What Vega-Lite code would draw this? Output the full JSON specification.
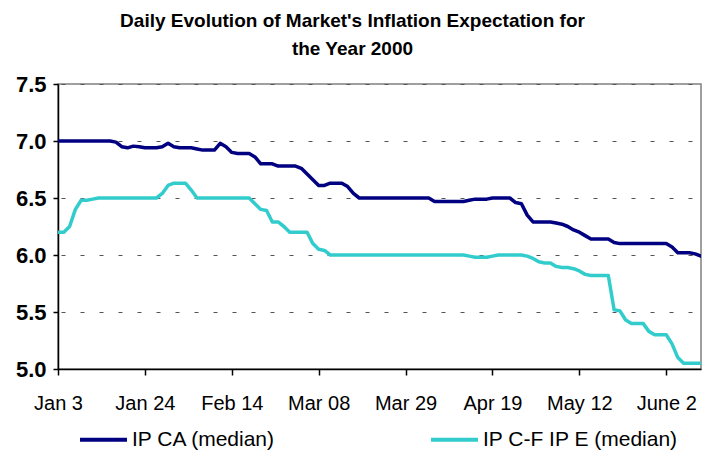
{
  "$schema": "https://vega.github.io/schema/vega-lite/v6.json",
  "autosize": {"type": "none"},
  "padding": {"left": 58, "top": 84, "right": 3, "bottom": 83},
  "width": 643,
  "height": 285,
  "title": {
    "text": ["Daily Evolution of Market's Inflation Expectation for", "the Year 2000"],
    "font": "Liberation Sans",
    "fontSize": 19,
    "fontWeight": "bold",
    "color": "#000000",
    "lineHeight": 28,
    "anchor": "middle",
    "frame": "group",
    "dx": -27,
    "offset": 14
  },
  "config": {
    "view": {"stroke": "#808080", "strokeWidth": 1.5},
    "font": "Liberation Sans"
  },
  "data": {
    "values": [
      {"s": "IP CA (median)", "d": 0, "v": 7.0},
      {"s": "IP CA (median)", "d": 9, "v": 7.0},
      {"s": "IP CA (median)", "d": 10, "v": 6.99},
      {"s": "IP CA (median)", "d": 11, "v": 6.95},
      {"s": "IP CA (median)", "d": 12, "v": 6.94},
      {"s": "IP CA (median)", "d": 13, "v": 6.955},
      {"s": "IP CA (median)", "d": 14, "v": 6.95},
      {"s": "IP CA (median)", "d": 15, "v": 6.94},
      {"s": "IP CA (median)", "d": 17, "v": 6.94},
      {"s": "IP CA (median)", "d": 18, "v": 6.95},
      {"s": "IP CA (median)", "d": 19, "v": 6.98},
      {"s": "IP CA (median)", "d": 20, "v": 6.95},
      {"s": "IP CA (median)", "d": 21, "v": 6.94},
      {"s": "IP CA (median)", "d": 23, "v": 6.94},
      {"s": "IP CA (median)", "d": 24, "v": 6.93},
      {"s": "IP CA (median)", "d": 25, "v": 6.92},
      {"s": "IP CA (median)", "d": 27, "v": 6.92},
      {"s": "IP CA (median)", "d": 28, "v": 6.98},
      {"s": "IP CA (median)", "d": 29, "v": 6.95},
      {"s": "IP CA (median)", "d": 30, "v": 6.9},
      {"s": "IP CA (median)", "d": 31, "v": 6.89},
      {"s": "IP CA (median)", "d": 33, "v": 6.89},
      {"s": "IP CA (median)", "d": 34, "v": 6.86},
      {"s": "IP CA (median)", "d": 35, "v": 6.8},
      {"s": "IP CA (median)", "d": 37, "v": 6.8},
      {"s": "IP CA (median)", "d": 38, "v": 6.78},
      {"s": "IP CA (median)", "d": 41, "v": 6.78},
      {"s": "IP CA (median)", "d": 42, "v": 6.76},
      {"s": "IP CA (median)", "d": 43, "v": 6.71},
      {"s": "IP CA (median)", "d": 44, "v": 6.66},
      {"s": "IP CA (median)", "d": 45, "v": 6.61},
      {"s": "IP CA (median)", "d": 46, "v": 6.61},
      {"s": "IP CA (median)", "d": 47, "v": 6.63},
      {"s": "IP CA (median)", "d": 49, "v": 6.63},
      {"s": "IP CA (median)", "d": 50, "v": 6.6},
      {"s": "IP CA (median)", "d": 51, "v": 6.54},
      {"s": "IP CA (median)", "d": 52, "v": 6.5},
      {"s": "IP CA (median)", "d": 64, "v": 6.5},
      {"s": "IP CA (median)", "d": 65, "v": 6.47},
      {"s": "IP CA (median)", "d": 70, "v": 6.47},
      {"s": "IP CA (median)", "d": 71, "v": 6.48},
      {"s": "IP CA (median)", "d": 72, "v": 6.49},
      {"s": "IP CA (median)", "d": 74, "v": 6.49},
      {"s": "IP CA (median)", "d": 75, "v": 6.5},
      {"s": "IP CA (median)", "d": 78, "v": 6.5},
      {"s": "IP CA (median)", "d": 79, "v": 6.46},
      {"s": "IP CA (median)", "d": 80, "v": 6.45},
      {"s": "IP CA (median)", "d": 81, "v": 6.35},
      {"s": "IP CA (median)", "d": 82, "v": 6.29},
      {"s": "IP CA (median)", "d": 85, "v": 6.29},
      {"s": "IP CA (median)", "d": 86, "v": 6.28},
      {"s": "IP CA (median)", "d": 87, "v": 6.27},
      {"s": "IP CA (median)", "d": 88, "v": 6.25},
      {"s": "IP CA (median)", "d": 89, "v": 6.22},
      {"s": "IP CA (median)", "d": 90, "v": 6.2},
      {"s": "IP CA (median)", "d": 91, "v": 6.17},
      {"s": "IP CA (median)", "d": 92, "v": 6.14},
      {"s": "IP CA (median)", "d": 95, "v": 6.14},
      {"s": "IP CA (median)", "d": 96, "v": 6.11},
      {"s": "IP CA (median)", "d": 97, "v": 6.1},
      {"s": "IP CA (median)", "d": 105, "v": 6.1},
      {"s": "IP CA (median)", "d": 106, "v": 6.07},
      {"s": "IP CA (median)", "d": 107, "v": 6.02},
      {"s": "IP CA (median)", "d": 109, "v": 6.02},
      {"s": "IP CA (median)", "d": 110, "v": 6.01},
      {"s": "IP CA (median)", "d": 111, "v": 5.99},
      {"s": "IP C-F IP E (median)", "d": 0, "v": 6.2},
      {"s": "IP C-F IP E (median)", "d": 1, "v": 6.2},
      {"s": "IP C-F IP E (median)", "d": 2, "v": 6.25},
      {"s": "IP C-F IP E (median)", "d": 3, "v": 6.4},
      {"s": "IP C-F IP E (median)", "d": 4, "v": 6.48},
      {"s": "IP C-F IP E (median)", "d": 5, "v": 6.48},
      {"s": "IP C-F IP E (median)", "d": 6, "v": 6.49},
      {"s": "IP C-F IP E (median)", "d": 7, "v": 6.5},
      {"s": "IP C-F IP E (median)", "d": 17, "v": 6.5},
      {"s": "IP C-F IP E (median)", "d": 18, "v": 6.54},
      {"s": "IP C-F IP E (median)", "d": 19, "v": 6.61},
      {"s": "IP C-F IP E (median)", "d": 20, "v": 6.63},
      {"s": "IP C-F IP E (median)", "d": 22, "v": 6.63},
      {"s": "IP C-F IP E (median)", "d": 23, "v": 6.57},
      {"s": "IP C-F IP E (median)", "d": 24, "v": 6.5},
      {"s": "IP C-F IP E (median)", "d": 33, "v": 6.5},
      {"s": "IP C-F IP E (median)", "d": 34, "v": 6.45},
      {"s": "IP C-F IP E (median)", "d": 35, "v": 6.4},
      {"s": "IP C-F IP E (median)", "d": 36, "v": 6.39},
      {"s": "IP C-F IP E (median)", "d": 37, "v": 6.29},
      {"s": "IP C-F IP E (median)", "d": 38, "v": 6.29},
      {"s": "IP C-F IP E (median)", "d": 39, "v": 6.25},
      {"s": "IP C-F IP E (median)", "d": 40, "v": 6.2},
      {"s": "IP C-F IP E (median)", "d": 43, "v": 6.2},
      {"s": "IP C-F IP E (median)", "d": 44, "v": 6.1},
      {"s": "IP C-F IP E (median)", "d": 45, "v": 6.05},
      {"s": "IP C-F IP E (median)", "d": 46, "v": 6.04},
      {"s": "IP C-F IP E (median)", "d": 47, "v": 6.0},
      {"s": "IP C-F IP E (median)", "d": 70, "v": 6.0},
      {"s": "IP C-F IP E (median)", "d": 71, "v": 5.99},
      {"s": "IP C-F IP E (median)", "d": 72, "v": 5.98},
      {"s": "IP C-F IP E (median)", "d": 74, "v": 5.98},
      {"s": "IP C-F IP E (median)", "d": 75, "v": 5.99},
      {"s": "IP C-F IP E (median)", "d": 76, "v": 6.0},
      {"s": "IP C-F IP E (median)", "d": 80, "v": 6.0},
      {"s": "IP C-F IP E (median)", "d": 81, "v": 5.99},
      {"s": "IP C-F IP E (median)", "d": 82, "v": 5.97},
      {"s": "IP C-F IP E (median)", "d": 83, "v": 5.94},
      {"s": "IP C-F IP E (median)", "d": 84, "v": 5.93},
      {"s": "IP C-F IP E (median)", "d": 85, "v": 5.93},
      {"s": "IP C-F IP E (median)", "d": 86, "v": 5.9},
      {"s": "IP C-F IP E (median)", "d": 87, "v": 5.89},
      {"s": "IP C-F IP E (median)", "d": 88, "v": 5.89},
      {"s": "IP C-F IP E (median)", "d": 89, "v": 5.88},
      {"s": "IP C-F IP E (median)", "d": 90, "v": 5.86},
      {"s": "IP C-F IP E (median)", "d": 91, "v": 5.83},
      {"s": "IP C-F IP E (median)", "d": 92, "v": 5.82},
      {"s": "IP C-F IP E (median)", "d": 95, "v": 5.82},
      {"s": "IP C-F IP E (median)", "d": 96, "v": 5.52},
      {"s": "IP C-F IP E (median)", "d": 97, "v": 5.51},
      {"s": "IP C-F IP E (median)", "d": 98, "v": 5.43},
      {"s": "IP C-F IP E (median)", "d": 99, "v": 5.4},
      {"s": "IP C-F IP E (median)", "d": 101, "v": 5.4},
      {"s": "IP C-F IP E (median)", "d": 102, "v": 5.33},
      {"s": "IP C-F IP E (median)", "d": 103, "v": 5.3},
      {"s": "IP C-F IP E (median)", "d": 105, "v": 5.3},
      {"s": "IP C-F IP E (median)", "d": 106, "v": 5.22},
      {"s": "IP C-F IP E (median)", "d": 107, "v": 5.1},
      {"s": "IP C-F IP E (median)", "d": 108, "v": 5.05},
      {"s": "IP C-F IP E (median)", "d": 111, "v": 5.05}
    ]
  },
  "mark": {"type": "line", "strokeWidth": 3.5, "strokeJoin": "round", "strokeCap": "round", "clip": true},
  "encoding": {
    "x": {
      "field": "d",
      "type": "quantitative",
      "scale": {"domain": [0, 111], "nice": false, "zero": false},
      "axis": {
        "title": null,
        "values": [0, 15, 30, 45, 60, 75, 90, 105],
        "labelExpr": "['Jan 3','Jan 24','Feb 14','Mar 08','Mar 29','Apr 19','May 12','June 2'][round(datum.value / 15)]",
        "labelFont": "Liberation Sans",
        "labelFontSize": 20,
        "labelColor": "#000000",
        "labelPadding": 18,
        "labelFlush": false,
        "labelOverlap": false,
        "tickSize": 6,
        "tickColor": "#000000",
        "tickWidth": 1.5,
        "domainColor": "#000000",
        "domainWidth": 1.5,
        "grid": false
      }
    },
    "y": {
      "field": "v",
      "type": "quantitative",
      "scale": {"domain": [5, 7.5], "nice": false, "zero": false},
      "axis": {
        "title": null,
        "values": [5, 5.5, 6, 6.5, 7, 7.5],
        "format": ".1f",
        "labelFont": "Liberation Sans",
        "labelFontSize": 22,
        "labelFontWeight": "bold",
        "labelColor": "#000000",
        "labelPadding": 7,
        "labelFlush": false,
        "tickSize": 5,
        "tickColor": "#000000",
        "tickWidth": 1.5,
        "domainColor": "#000000",
        "domainWidth": 1.5,
        "grid": true,
        "gridColor": "#555555",
        "gridWidth": 1.2,
        "gridDash": [4, 15],
        "gridDashOffset": 16
      }
    },
    "color": {
      "field": "s",
      "type": "nominal",
      "sort": ["IP CA (median)", "IP C-F IP E (median)"],
      "scale": {"domain": ["IP CA (median)", "IP C-F IP E (median)"], "range": ["#000080", "#33CCCC"]},
      "legend": {
        "title": null,
        "orient": "none",
        "direction": "horizontal",
        "legendX": 20,
        "legendY": 330,
        "padding": 0,
        "symbolType": "stroke",
        "symbolSize": 2209,
        "symbolStrokeWidth": 4,
        "labelFont": "Liberation Sans",
        "labelFontSize": 21,
        "labelColor": "#000000",
        "labelOffset": 3,
        "labelLimit": 300,
        "columnPadding": 147
      }
    }
  }
}
